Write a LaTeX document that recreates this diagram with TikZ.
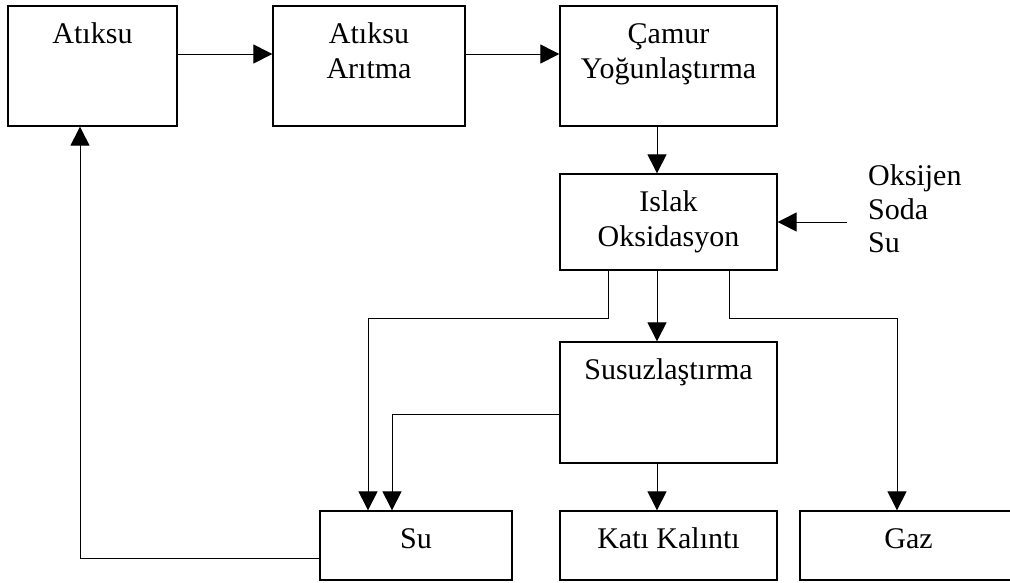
\documentclass[tikz,border=0pt]{standalone}
\usepackage{fontspec}
\setmainfont{Liberation Serif}
\usetikzlibrary{arrows.meta}
\newcommand{\bodyfont}{\fontsize{30}{34.5}\selectfont}
\begin{document}
\begin{tikzpicture}[x=1pt,y=-1pt,
  box/.style={draw, line width=1.3pt, rectangle, inner sep=0pt},
  lbl/.style={anchor=north, inner sep=0pt, align=center, font=\bodyfont, yshift=-14pt},
  flow/.style={line width=1pt, -{Triangle[length=19pt,width=19pt]}},
  feed/.style={line width=1pt}]
\useasboundingbox (0,0) rectangle (1010,582);
\clip (0,0) rectangle (1010,582);

% process boxes
\node[box, minimum width=169pt, minimum height=120pt] (a1)  at (92.5,66)   {};
\node[box, minimum width=192pt, minimum height=120pt] (a2)  at (369,66)    {};
\node[box, minimum width=217pt, minimum height=120pt] (a3)  at (668.5,66)  {};
\node[box, minimum width=217pt, minimum height=96pt]  (isl) at (668.5,222) {};
\node[box, minimum width=217pt, minimum height=121pt] (sus) at (668.5,402.5) {};
\node[box, minimum width=192pt, minimum height=69pt]  (su)  at (416,545.5) {};
\node[box, minimum width=217pt, minimum height=69pt]  (kat) at (668.5,545.5) {};
\node[box, minimum width=217pt, minimum height=69pt]  (gaz) at (908.5,545.5) {};

% box titles
\node[lbl] (ta1)  at (a1.north)  {\strut Atıksu};
\node[lbl] (ta2)  at (a2.north)  {\strut Atıksu\\Arıtma};
\node[lbl] (ta3)  at (a3.north)  {\strut Çamur\\Yoğunlaştırma};
\node[lbl] (tisl) at (isl.north) {\strut Islak\\Oksidasyon};
\node[lbl] (tsus) at (sus.north) {\strut Susuzlaştırma};
\node[lbl] (tsu)  at (su.north)  {\strut Su};
\node[lbl] (tkat) at (kat.north) {\strut Katı Kalıntı};
\node[lbl] (tgaz) at (gaz.north) {\strut Gaz};

% chemical inputs
\node[anchor=north west, inner sep=0pt, align=left, font=\fontsize{30}{33.5}\selectfont]
  (inputs) at (868,162) {\strut Oksijen\\Soda\\Su};
\coordinate (feedin) at (847,222);

% main line
\draw[flow] ([yshift=12pt]a1.east) -- ([yshift=12pt]a2.east -| a2.west);
\draw[flow] ([yshift=12pt]a2.east) -- ([yshift=12pt]a3.east -| a3.west);
\draw[flow] ([xshift=-11.5pt]a3.south) -- ([xshift=-11.5pt]isl.north);
\draw[flow] (feedin) -- (isl.east);

% outputs of wet oxidation
\draw[flow] ([xshift=-11.5pt]isl.south) -- ([xshift=-11.5pt]sus.north);
\draw[flow] ([xshift=-60.5pt]isl.south) |- (368,318) -- (368,318 |- su.north);
\draw[flow] ([xshift=60.5pt]isl.south) |- (897,318) -- (897,318 |- gaz.north);

% dewatering outputs
\draw[flow] ([yshift=-11.5pt]sus.west) -| (392,0 |- su.north);
\draw[flow] ([xshift=-11.5pt]sus.south) -- ([xshift=-11.5pt]kat.north);

% water recycle
\draw[flow] ([yshift=-12.5pt]su.west) -| (80,0 |- a1.south);
\end{tikzpicture}
\end{document}
